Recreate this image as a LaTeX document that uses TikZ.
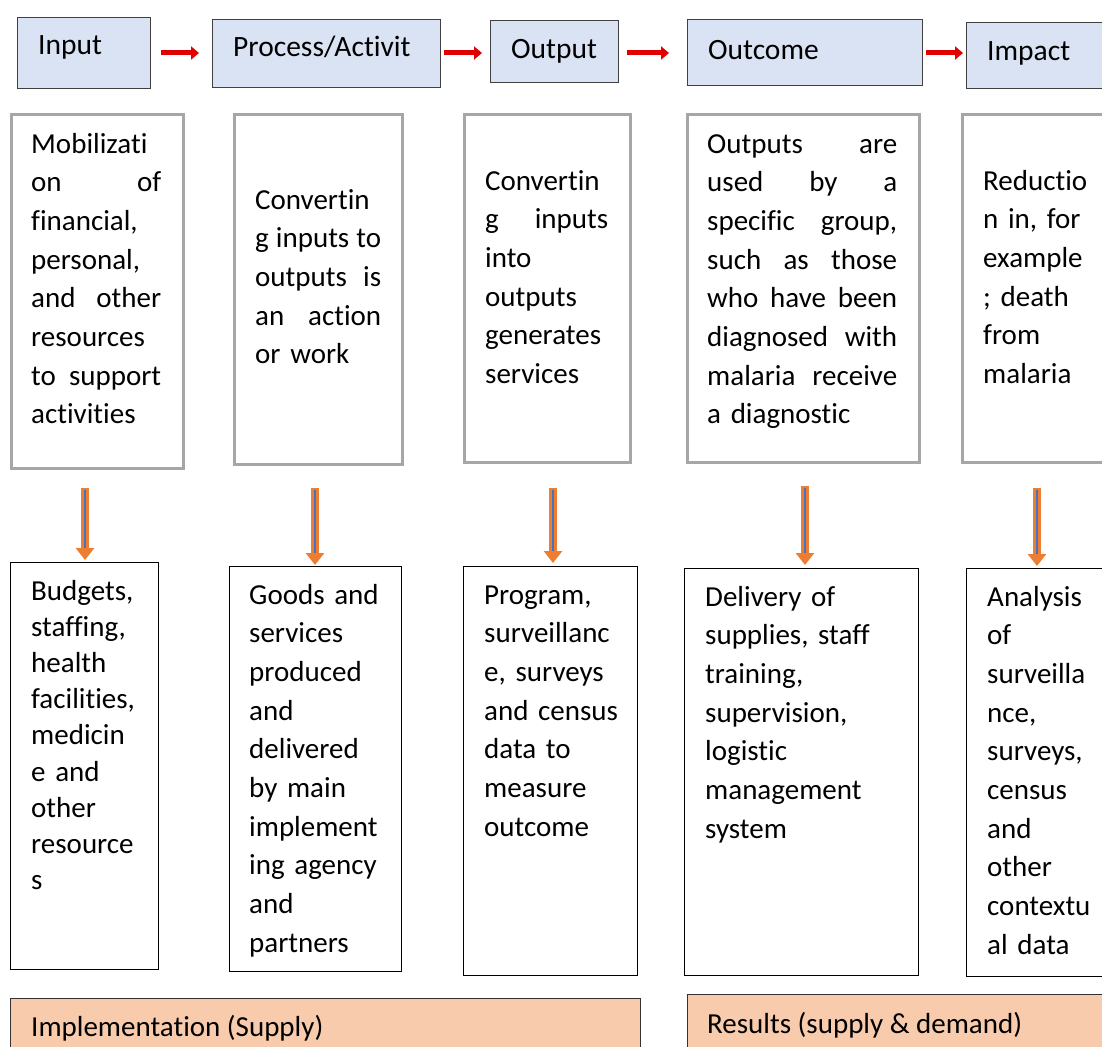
\documentclass[tikz,border=0pt]{standalone}
\usepackage{fontspec}
\setmainfont[RawFeature={-liga;-clig;-calt;-dlig}]{Carlito}
\usetikzlibrary{arrows.meta,calc}
\definecolor{hdrblue}{HTML}{DAE3F3}
\definecolor{midgray}{HTML}{A6A6A6}
\definecolor{orangebg}{HTML}{F8CBAD}
\definecolor{arrorange}{HTML}{ED7D31}
\definecolor{arrblue}{HTML}{4472C4}
\definecolor{arrred}{RGB}{225,0,0}
\newcommand{\J}[1]{\leavevmode\hbox to \hsize{#1}}
\newcommand{\fsz}{\fontsize{29}{38.7}\selectfont}
\tikzset{
  hdr/.style={draw=black!75, line width=1.3pt, fill=hdrblue, inner sep=0pt, anchor=north west},
  midbox/.style={draw=midgray, line width=3pt, inner sep=0pt, anchor=north west},
  botbox/.style={draw=black, line width=1pt, inner sep=0pt, anchor=north west},
  lblbox/.style={draw=black!80, line width=1.3pt, fill=orangebg, inner sep=0pt, anchor=north west},
  txt/.style={anchor=base west, inner sep=0pt, font=\fsz, align=left},
  htxt/.style={anchor=base west, inner sep=0pt, font=\fontsize{29.5}{36}\selectfont},
  redarr/.style={draw=arrred, line width=5pt, -{Triangle[length=8pt,width=13pt]}},
  downarr/.style={draw=arrorange, line width=8pt, -{Triangle[length=12pt,width=18pt]}},
  downin/.style={draw=arrblue, line width=2.5pt},
}
\begin{document}
\begin{tikzpicture}[x=1pt,y=-1pt]
\useasboundingbox (0,0) rectangle (1102,1046);
\clip (0,0) rectangle (1102,1046);
% header boxes
\node[hdr, minimum width=133pt, minimum height=71pt] (h1) at (17,17) {};
\node[hdr, minimum width=228pt, minimum height=68pt] (h2) at (212,19) {};
\node[hdr, minimum width=128pt, minimum height=62pt] (h3) at (490,20) {};
\node[hdr, minimum width=235pt, minimum height=66pt] (h4) at (687,19) {};
\node[hdr, minimum width=150pt, minimum height=66pt] (h5) at (966,22) {};
\node[htxt] (ht1) at (38,55) {Input};
\node[htxt] (ht2) at (233,57) {Process/Activit};
\node[htxt] (ht3) at (511,59) {Output};
\node[htxt] (ht4) at (708,60) {Outcome};
\node[htxt] (ht5) at (987,61) {Impact};
% red arrows
\coordinate (ry) at (0,53);
\draw[redarr] ([xshift=10pt]h1.east |- ry) -- ([xshift=-13pt]h2.west |- ry);
\draw[redarr] ([xshift=3pt]h2.east |- ry) -- ([xshift=-8pt]h3.west |- ry);
\draw[redarr] ([xshift=8pt]h3.east |- ry) -- ([xshift=-18pt]h4.west |- ry);
\draw[redarr] ([xshift=3pt]h4.east |- ry) -- ([xshift=-3pt]h5.west |- ry);
% middle boxes
\node[midbox, minimum width=172pt, minimum height=354pt] (m1) at (10,113) {};
\node[midbox, minimum width=168pt, minimum height=350pt] (m2) at (233,113) {};
\node[midbox, minimum width=166pt, minimum height=348pt] (m3) at (463,113) {};
\node[midbox, minimum width=232pt, minimum height=348pt] (m4) at (686,113) {};
\node[midbox, minimum width=160pt, minimum height=348pt] (m5) at (961,113) {};
\node[txt, text width=130pt] (mt1) at (31,153) {Mobilizati\\ \J{on\hfill of}\\ financial,\\ personal,\\ \J{and\hfill other}\\ resources\\ \J{to\hfill support}\\ activities};
\node[txt, text width=126pt] (mt2) at (255,209) {Convertin\\ \J{g\hfill inputs\hfill to}\\ \J{outputs\hfill is}\\ \J{an\hfill action}\\ or work};
\node[txt, text width=123pt] (mt3) at (485,190) {Convertin\\ \J{g\hfill inputs}\\ into\\ outputs\\ generates\\ services};
\node[txt, text width=190pt] (mt4) at (707,153) {\J{Outputs\hfill are}\\ \J{used\hfill by\hfill a}\\ \J{specific\hfill group,}\\ \J{such\hfill as\hfill those}\\ \J{who\hfill have\hfill been}\\ \J{diagnosed\hfill with}\\ \J{malaria\hfill receive}\\ a diagnostic};
\node[txt, text width=120pt] (mt5) at (983,190) {Reductio\\ n in, for\\ example\\ ; death\\ from\\ malaria};
% bottom boxes
\node[botbox, minimum width=148pt, minimum height=407pt] (b1) at (10,562) {};
\node[botbox, minimum width=172pt, minimum height=405pt] (b2) at (229,566) {};
\node[botbox, minimum width=174pt, minimum height=409pt] (b3) at (463,566) {};
\node[botbox, minimum width=234pt, minimum height=407pt] (b4) at (684,568) {};
\node[botbox, minimum width=150pt, minimum height=408pt] (b5) at (966,568) {};
\node[txt, text width=125pt, font=\fontsize{29}{36.2}\selectfont] (bt1) at (31,600) {Budgets,\\ staffing,\\ health\\ facilities,\\ medicin\\ e and\\ other\\ resource\\ s};
\node[txt, text width=150pt] (bt2) at (249,604) {Goods and\\ services\\ produced\\ and\\ delivered\\ by main\\ implement\\ ing agency\\ and\\ partners};
\node[txt, text width=150pt] (bt3) at (484,604) {Program,\\ surveillanc\\ e, surveys\\ and census\\ data to\\ measure\\ outcome};
\node[txt, text width=210pt] (bt4) at (705,606) {Delivery of\\ supplies, staff\\ training,\\ supervision,\\ logistic\\ management\\ system};
\node[txt, text width=115pt] (bt5) at (987,606) {Analysis\\ of\\ surveilla\\ nce,\\ surveys,\\ census\\ and\\ other\\ contextu\\ al data};
% down arrows
\coordinate (a1) at (85,488);
\coordinate (a2) at (315,488);
\coordinate (a3) at (553,488);
\coordinate (a4) at (805,486);
\coordinate (a5) at (1037,488);
\draw[downarr] (a1) -- ([yshift=2pt]b1.north -| a1);
\draw[downarr] (a2) -- ([yshift=1pt]b2.north -| a2);
\draw[downarr] (a3) -- ([yshift=3pt]b3.north -| a3);
\draw[downarr] (a4) -- ([yshift=3pt]b4.north -| a4);
\draw[downarr] (a5) -- ([yshift=2pt]b5.north -| a5);
\draw[downin] ([yshift=-2pt]a1) -- ([yshift=14pt]b1.north -| a1);
\draw[downin] ([yshift=-2pt]a2) -- ([yshift=13pt]b2.north -| a2);
\draw[downin] ([yshift=-2pt]a3) -- ([yshift=15pt]b3.north -| a3);
\draw[downin] ([yshift=-2pt]a4) -- ([yshift=15pt]b4.north -| a4);
\draw[downin] ([yshift=-2pt]a5) -- ([yshift=14pt]b5.north -| a5);
% label boxes
\node[lblbox, minimum width=630pt, minimum height=60pt] (o1) at (10,998) {};
\node[lblbox, minimum width=430pt, minimum height=60pt] (o2) at (687,994) {};
\node[txt] (ot1) at (31,1036) {Implementation (Supply)};
\node[txt] (ot2) at (707,1033) {Results (supply \& demand)};
\end{tikzpicture}
\end{document}
